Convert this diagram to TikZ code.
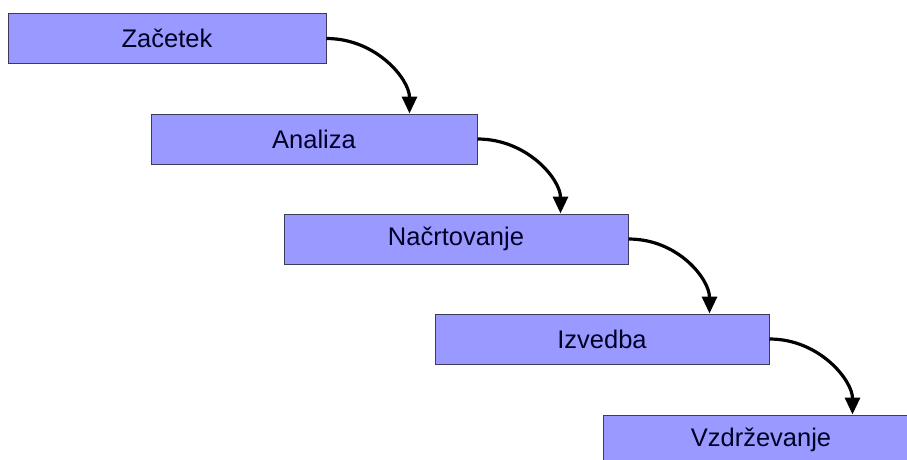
\documentclass[tikz,border=0pt]{standalone}
\usepackage{fontspec}
\setmainfont{Liberation Sans}
\usetikzlibrary{arrows.meta}
\definecolor{boxfill}{HTML}{9999FF}
\definecolor{boxline}{HTML}{3C3C5A}
\tikzset{
  stepbox/.style={draw=boxline, line width=1pt, fill=boxfill, minimum height=50pt, inner sep=0pt, font=\fontsize{25.5}{28}\selectfont, text=black!85!blue},
  flow/.style={line width=3.2pt, -{Triangle[length=17pt,width=15pt]}}
}
\begin{document}
\begin{tikzpicture}[x=1pt,y=-1pt]
\useasboundingbox (0,0) rectangle (907,459);
\clip (0,0) rectangle (907,459);
\fill[white] (0,0) rectangle (907,459);
\node[stepbox, minimum width=318pt] (b1) at (167,38.5) {Začetek};
\node[stepbox, minimum width=326pt] (b2) at (314,139) {Analiza};
\node[stepbox, minimum width=344pt] (b3) at (456,239) {Načrtovanje};
\node[stepbox, minimum width=334pt] (b4) at (602,339) {Izvedba};
\node[stepbox, minimum width=316pt] (b5) at (761,440) {Vzdrževanje};
\draw[flow] (b1.east) .. controls +(50,0) and +(0,-34) .. ([xshift=259pt]b2.north west);
\draw[flow] (b2.east) .. controls +(50,0) and +(0,-34) .. ([xshift=277pt]b3.north west);
\draw[flow] (b3.east) .. controls +(50,0) and +(0,-34) .. ([xshift=275pt]b4.north west);
\draw[flow] (b4.east) .. controls +(50,0) and +(0,-34) .. ([xshift=250pt]b5.north west);
\end{tikzpicture}
\end{document}
